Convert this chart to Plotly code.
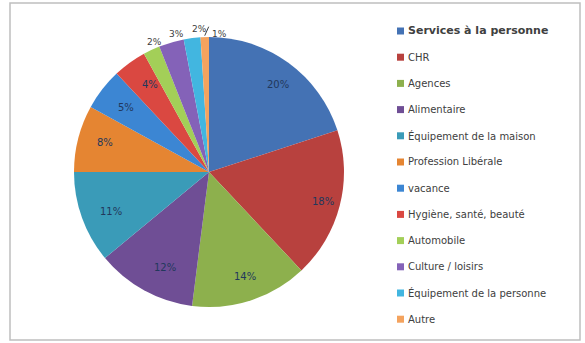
import math
import plotly.graph_objects as go

labels = ["Services à la personne", "CHR", "Agences", "Alimentaire",
          "Équipement de la maison", "Profession Libérale", "vacance",
          "Hygiène, santé, beauté", "Automobile", "Culture / loisirs",
          "Équipement de la personne", "Autre"]
values = [20, 18, 14, 12, 11, 8, 5, 4, 2, 3, 2, 1]
colors = ["#4472B4", "#B8413E", "#8DB04D", "#6F4E95", "#3A9BB8", "#E58532",
          "#3C86D3", "#DA4841", "#A3CF58", "#8462B8", "#42B6E0", "#F4A35E"]
outside = [False] * 8 + [True] * 4

W, H = 585, 343
CX, CY, R = 209, 172, 135  # pie centre and radius in pixels (layout)

fig = go.Figure(go.Pie(
    labels=labels, values=values, sort=False, direction="clockwise", rotation=0,
    marker=dict(colors=colors, line=dict(width=0)),
    textinfo="none",
    domain=dict(x=[(CX - R) / W, (CX + R) / W],
                y=[(H - CY - R) / H, (H - CY + R) / H]),
    showlegend=False, hoverinfo="label+percent",
))

shapes = [dict(type="rect", xref="paper", yref="paper",
               x0=10 / W, x1=580 / W, y0=1 - 340 / H, y1=1 - 3 / H,
               line=dict(color="#BFBFBF", width=1.5), fillcolor="rgba(0,0,0,0)")]
annotations = []

# percentage labels placed from the data (cumulative share -> angle)
total = sum(values)
cum = 0
for i, v in enumerate(values):
    mid = (cum + v / 2) / total
    cum += v
    ang = 2 * math.pi * mid
    pct = f"{round(100 * v / total)}%"
    if not outside[i]:
        r = 0.87 * R
        px, py = CX + r * math.sin(ang), CY - r * math.cos(ang)
        annotations.append(dict(xref="paper", yref="paper", x=px / W, y=1 - py / H,
                                text=pct, showarrow=False,
                                font=dict(family="DejaVu Sans", size=10, color="#22385C")))
    else:
        r = 1.12 * R
        px, py = CX + r * math.sin(ang), CY - r * math.cos(ang)
        if i == len(values) - 1:
            ex, ey = CX + 1.01 * R * math.sin(ang), CY - 1.01 * R * math.cos(ang)
            lx, ly = ex + 4, ey - 9
            shapes.append(dict(type="line", xref="paper", yref="paper",
                               x0=ex / W, y0=1 - ey / H, x1=lx / W, y1=1 - ly / H,
                               line=dict(color="#404040", width=1)))
            annotations.append(dict(xref="paper", yref="paper", x=(lx + 1) / W, y=1 - ly / H,
                                    text=pct, showarrow=False, xanchor="left",
                                    font=dict(family="DejaVu Sans", size=9, color="#404040")))
        else:
            annotations.append(dict(xref="paper", yref="paper", x=px / W, y=1 - py / H,
                                    text=pct, showarrow=False,
                                    font=dict(family="DejaVu Sans", size=9, color="#404040")))

# legend
y0, step = 31, 26.2
for i, (lab, col) in enumerate(zip(labels, colors)):
    yc = y0 + i * step
    shapes.append(dict(type="rect", xref="paper", yref="paper",
                       x0=397 / W, x1=404 / W,
                       y0=1 - (yc + 3.5) / H, y1=1 - (yc - 3.5) / H,
                       fillcolor=col, line=dict(width=0)))
    if i == 0:
        txt = "<b>" + lab + "</b>"
        fs = 11
    else:
        txt = lab
        fs = 10
    annotations.append(dict(xref="paper", yref="paper", x=406 / W, y=1 - yc / H,
                            text=txt, showarrow=False, xanchor="left", yanchor="middle",
                            font=dict(family="DejaVu Sans", size=fs, color="#404040")))

fig.update_layout(width=W, height=H, margin=dict(l=0, r=0, t=0, b=0),
                  paper_bgcolor="white", plot_bgcolor="white",
                  shapes=shapes, annotations=annotations)
fig.write_html("out.html")
